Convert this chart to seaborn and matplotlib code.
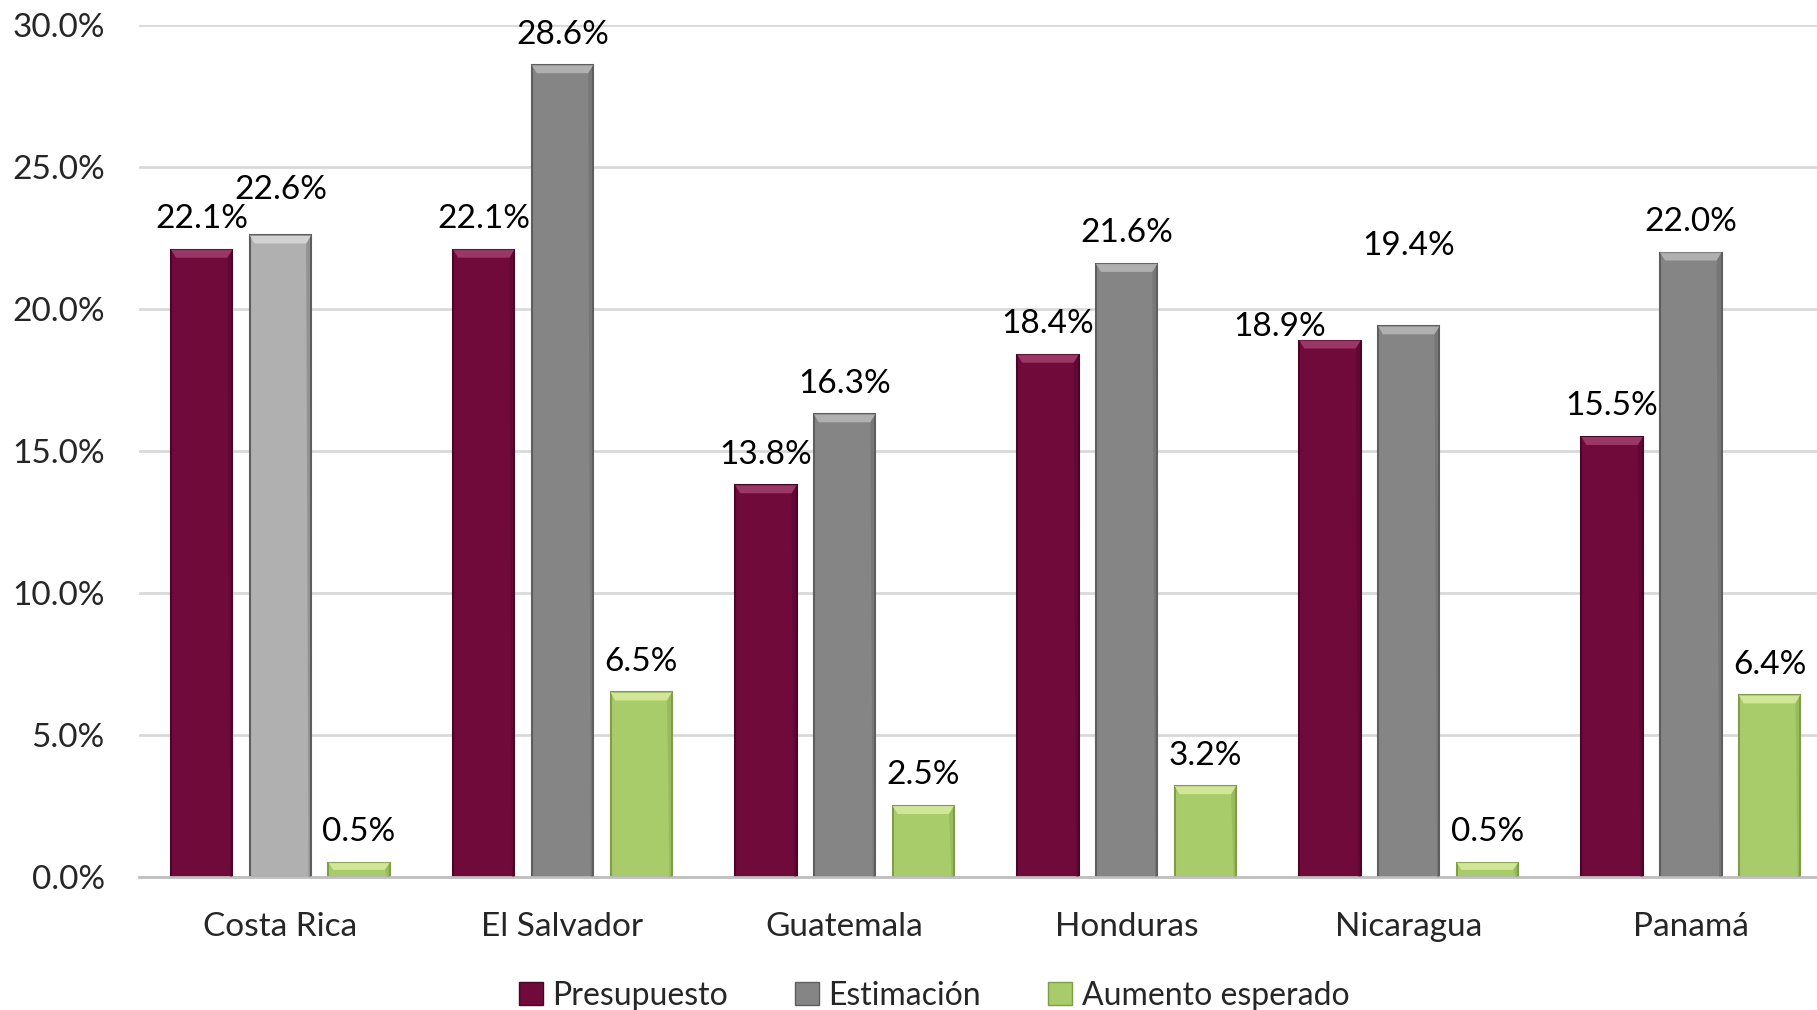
import numpy as np
import pandas as pd
import matplotlib
matplotlib.use("Agg")
import matplotlib.pyplot as plt
import seaborn as sns
from matplotlib.patches import Polygon, Patch
from matplotlib.ticker import FuncFormatter

# ─── Data ─────────────────────────────────────────────────────────────────────
countries = ["Costa Rica", "El Salvador", "Guatemala", "Honduras", "Nicaragua", "Panamá"]
series = ["Presupuesto", "Estimación", "Aumento esperado"]
presupuesto = [22.1, 22.1, 13.8, 18.4, 18.9, 15.5]
estimacion = [22.6, 28.6, 16.3, 21.6, 19.4, 22.0]
aumento = [0.5, 6.5, 2.5, 3.2, 0.5, 6.4]

# ─── Style ────────────────────────────────────────────────────────────────────
colors = {"Presupuesto": "#6f0a3b", "Estimación": "#858585", "Aumento esperado": "#a9cc6b"}
edges = {"Presupuesto": "#4a0627", "Estimación": "#5e5e5e", "Aumento esperado": "#7f9c48"}
bevels = {"Presupuesto": "#a2406f", "Estimación": "#b8b8b8", "Aumento esperado": "#d9ec9f"}
# Costa Rica estimation bar is drawn in a lighter grey in the original
highlight = ("Costa Rica", "Estimación", "#b0b0b0", "#d9d9d9")

# label nudges (points) where the original moved labels to avoid overlap
nudges = {("Costa Rica", "Estimación"): (0, 11),
          ("Nicaragua", "Estimación"): (0, 36),
          ("Nicaragua", "Presupuesto"): (-36, -12)}

df = pd.DataFrame({
    "País": countries * 3,
    "Serie": [s for s in series for _ in countries],
    "Valor": presupuesto + estimacion + aumento,
})

sns.set_theme(style="white")
plt.rcParams["font.family"] = ["Lato", "DejaVu Sans"]

fig = plt.figure(figsize=(18.17, 10.10), dpi=100)
ax = fig.add_axes([0.0767, 0.1317, 0.9315, 0.8431])

sns.barplot(data=df, x="País", y="Valor", hue="Serie", order=countries,
            hue_order=series, palette=colors, width=0.837, gap=0.22,
            linewidth=1.5, ax=ax, legend=False, errorbar=None)

ax.set_ylim(0, 30)
ax.set_xlim(-0.5, 5.5)
ax.set_yticks(np.arange(0, 31, 5))
ax.yaxis.set_major_formatter(FuncFormatter(lambda v, _: f"{v:.1f}%"))
ax.grid(axis="y", color="#d9d9d9", linewidth=2)
ax.set_axisbelow(True)
for s in ["left", "right", "top"]:
    ax.spines[s].set_visible(False)
ax.spines["bottom"].set_color("#bfbfbf")
ax.spines["bottom"].set_linewidth(2)
ax.tick_params(axis="y", length=0, pad=25, labelsize=24)
ax.tick_params(axis="x", length=0, pad=25, labelsize=24)
ax.set_xlabel("")
ax.set_ylabel("")

# bevel size in data units (~8 px tall, ~5 px inset)
px_per_unit = ax.transData.transform((0, 1))[1] - ax.transData.transform((0, 0))[1]
bh = 8 / px_per_unit
px_per_x = ax.transData.transform((1, 0))[0] - ax.transData.transform((0, 0))[0]
bw = 5 / px_per_x

for si, s in enumerate(series):
    for ci, c in enumerate(countries):
        bar = ax.patches[si * len(countries) + ci]
        face, bev = colors[s], bevels[s]
        if (c, s) == highlight[:2]:
            face, bev = highlight[2], highlight[3]
        bar.set_facecolor(face)
        bar.set_edgecolor(edges[s])
        x0, w, h = bar.get_x(), bar.get_width(), bar.get_height()
        hh = min(bh, h * 0.5)
        ax.add_patch(Polygon([(x0, h), (x0 + w, h), (x0 + w - bw, h - hh), (x0 + bw, h - hh)],
                             closed=True, facecolor=bev, edgecolor="none", alpha=0.85, zorder=3))
        # thin side shading
        ax.add_patch(Polygon([(x0 + w, h), (x0 + w, 0), (x0 + w - bw * 0.5, 0), (x0 + w - bw, h - hh)],
                             closed=True, facecolor=edges[s], edgecolor="none", alpha=0.35, zorder=3))
        dx, dy = nudges.get((c, s), (0, 0))
        ax.annotate(f"{h:.1f}%", (x0 + w / 2, h), xytext=(dx, 22 + dy),
                    textcoords="offset points", ha="center", va="center",
                    fontsize=24, color="black", zorder=4)

handles = [Patch(facecolor=colors[s], edgecolor=edges[s], label=s) for s in series]
fig.legend(handles=handles, loc="center", bbox_to_anchor=(0.514, 0.014), ncol=3,
           frameon=False, fontsize=23, handlelength=0.75, handleheight=0.75,
           handletextpad=0.3, columnspacing=2.1)

fig.savefig("out.png", dpi=100)
